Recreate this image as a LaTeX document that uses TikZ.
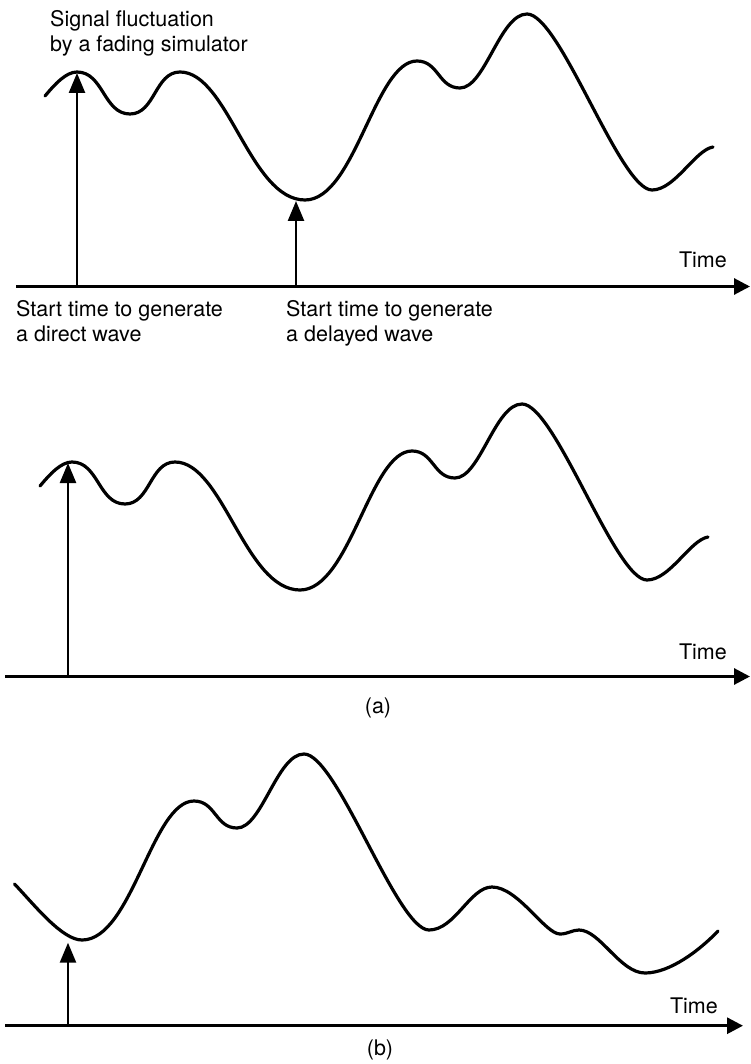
\documentclass[tikz,border=0pt]{standalone}
\usepackage{fontspec}
\setmainfont{TeX Gyre Heros}
\usetikzlibrary{arrows.meta}
\tikzset{
  wave/.style={line width=3.2pt, line cap=round, line join=round},
  axisline/.style={line width=3pt, -{Triangle[length=16pt,width=16pt]}},
  marker/.style={line width=2.5pt, -{Triangle[length=20pt,width=16pt]}},
  lbl/.style={anchor=base west, inner sep=0pt, font=\fontsize{21.5}{25}\selectfont},
  tlbl/.style={anchor=base east, inner sep=0pt, font=\fontsize{21.5}{25}\selectfont},
  clbl/.style={anchor=base, inner sep=0pt, font=\fontsize{21.5}{25}\selectfont},
  fadecurve/.pic={
    \draw[wave] (45,96) .. controls (55,84) and (66,72) .. (77,72)
      .. controls (103.5,72) and (103.5,114) .. (130,114)
      .. controls (155,114) and (155,72) .. (180,72)
      .. controls (228,72) and (250,200) .. (305,200)
      .. controls (355,200) and (375,61) .. (417,61)
      .. controls (438.5,61) and (438.5,88) .. (460,88)
      .. controls (485,88) and (500,14) .. (527,14)
      .. controls (560,14) and (620,190) .. (652,190)
      .. controls (675,190) and (695,150) .. (713,147);
  }
}
\begin{document}
\begin{tikzpicture}[x=1pt,y=-1pt]
\useasboundingbox (0,0) rectangle (750,1064);

% ---------- top panel ----------
\pic at (0,0) {fadecurve};
\coordinate (t-axs) at (16,286.5);
\coordinate (t-axe) at (750,286.5);
\draw[axisline] (t-axs) -- (t-axe);
\coordinate (t-m1b) at (77,286.5);
\coordinate (t-m1t) at (77,73);
\draw[marker] (t-m1b) -- (t-m1t);
\coordinate (t-m2b) at (296,286.5);
\coordinate (t-m2t) at (296,201);
\draw[marker] (t-m2b) -- (t-m2t);
\node[lbl] (sig1) at (50,26.7) {Signal fluctuation};
\node[lbl] (sig2) at (50,51.7) {by a fading simulator};
\node[lbl] (dir1) at (16,316.7) {Start time to generate};
\node[lbl] (dir2) at (16,341.7) {a direct wave};
\node[lbl] (del1) at (286,316.7) {Start time to generate};
\node[lbl] (del2) at (286,341.7) {a delayed wave};
\node[tlbl] (time1) at (727,268) {Time};

% ---------- panel (a) ----------
\pic at (-5,390) {fadecurve};
\coordinate (a-axs) at (5,676.5);
\coordinate (a-axe) at (750,676.5);
\draw[axisline] (a-axs) -- (a-axe);
\coordinate (a-mb) at (68,676.5);
\coordinate (a-mt) at (68,463);
\draw[marker] (a-mb) -- (a-mt);
\node[tlbl] (time2) at (727,659) {Time};
\node[clbl] (capa) at (378,713) {(a)};

% ---------- panel (b) ----------
\draw[wave] (14.5,884) .. controls (34.5,905) and (62,940) .. (82,940)
  .. controls (132,940) and (152,801) .. (194,801)
  .. controls (215.5,801) and (215.5,828) .. (237,828)
  .. controls (262,828) and (277,754) .. (304,754)
  .. controls (337,754) and (397,930) .. (429,930)
  .. controls (455,930) and (470,887) .. (492,887)
  .. controls (518,887) and (545,934) .. (560,934)
  .. controls (568,934) and (572,930) .. (579,930)
  .. controls (600,930) and (620,973) .. (645,973)
  .. controls (670,973) and (700,950) .. (718,931);
\coordinate (b-axs) at (5,1025.7);
\coordinate (b-axe) at (743,1025.7);
\draw[axisline] (b-axs) -- (b-axe);
\coordinate (b-mb) at (68,1025.7);
\coordinate (b-mt) at (68,942.7);
\draw[marker] (b-mb) -- (b-mt);
\node[tlbl] (time3) at (718,1013.3) {Time};
\node[clbl] (capb) at (380,1055) {(b)};
\end{tikzpicture}
\end{document}
